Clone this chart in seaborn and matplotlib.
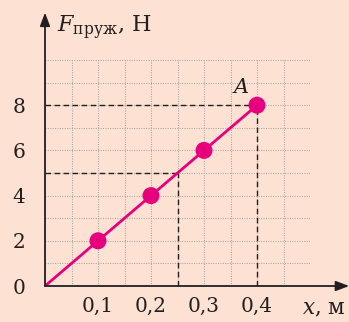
import numpy as np
import pandas as pd
import matplotlib
matplotlib.use("Agg")
import matplotlib.pyplot as plt
import seaborn as sns

# data
x_vals = [0.0, 0.1, 0.2, 0.3, 0.4]
f_vals = [0, 2, 4, 6, 8]
point_x = [0.1, 0.2, 0.3, 0.4]
point_f = [2, 4, 6, 8]
x_ticks = [0.1, 0.2, 0.3, 0.4]
x_labels = ["0,1", "0,2", "0,3", "0,4"]
y_ticks = [0, 2, 4, 6, 8]
y_labels = ["0", "2", "4", "6", "8"]
point_a = (0.4, 8)
read_x, read_f = 0.25, 5

bg = "#fde2d3"
ink = "#231f20"
magenta = "#e6007e"

sns.set_style("white")
plt.rcParams["font.family"] = ["DejaVu Serif"]
plt.rcParams["mathtext.fontset"] = "dejavuserif"

fig = plt.figure(figsize=(3.49, 3.22), dpi=100, facecolor=bg)
ax = fig.add_axes([45 / 349, 36 / 322, 265 / 349, 226 / 322], facecolor=bg)

line_df = pd.DataFrame({"x": x_vals, "F": f_vals})
pts_df = pd.DataFrame({"x": point_x, "F": point_f})

# dotted grid every 0.05 m and 1 N
ax.set_xlim(0, 0.5)
ax.set_ylim(0, 10)
ax.set_xticks(np.arange(0, 0.501, 0.05), minor=True)
ax.set_yticks(np.arange(0, 10.01, 1), minor=True)
ax.xaxis.remove_overlapping_locs = False
ax.yaxis.remove_overlapping_locs = False
ax.grid(which="minor", color="#a9a5a3", linestyle=(0, (1, 1.3)), linewidth=0.75)
ax.grid(which="major", visible=False)
ax.tick_params(which="minor", length=0)

# dashed guide lines
dash = (0, (4, 2.5))
ax.hlines(point_a[1], 0, point_a[0], colors=ink, linestyles=dash, linewidth=1, zorder=3)
ax.vlines(point_a[0], 0, point_a[1], colors=ink, linestyles=dash, linewidth=1, zorder=3)
ax.hlines(read_f, 0, read_x, colors=ink, linestyles=dash, linewidth=1, zorder=3)
ax.vlines(read_x, 0, read_f, colors=ink, linestyles=dash, linewidth=1, zorder=3)

sns.lineplot(data=line_df, x="x", y="F", color=magenta, linewidth=2, ax=ax, zorder=4)
sns.scatterplot(data=pts_df, x="x", y="F", color=magenta, s=150, edgecolor="none", ax=ax, zorder=5, clip_on=False)

for s in ax.spines.values():
    s.set_visible(False)

# axes with arrows
arrow = dict(arrowstyle="-|>,head_length=0.8,head_width=0.3", color=ink, lw=1.3, shrinkA=0, shrinkB=0)
ax.annotate("", xy=(0.574, 0), xytext=(0, 0), arrowprops=arrow, annotation_clip=False, zorder=6)
ax.annotate("", xy=(0, 12.1), xytext=(0, 0), arrowprops=arrow, annotation_clip=False, zorder=6)

ax.set_xticks(x_ticks)
ax.set_xticklabels(x_labels)
ax.set_yticks(y_ticks)
ax.set_yticklabels(y_labels)
ax.tick_params(which="major", direction="out", length=5, width=1.2, color=ink,
               labelsize=14.5, labelcolor=ink, pad=3)
ax.tick_params(axis="y", pad=9)
ax.yaxis.get_major_ticks()[0].tick1line.set_visible(False)
ax.set_xlabel("")
ax.set_ylabel("")

ax.text(0.022, 11.4, r"$F_{\mathrm{пруж}}$, Н", fontsize=16, color=ink, va="center", ha="left", clip_on=False)
ax.text(0.567, -1.0, r"$x$, м", fontsize=15.5, color=ink, va="center", ha="right", clip_on=False)
ax.text(point_a[0] - 0.03, point_a[1] + 0.8, r"$A$", fontsize=15, color=ink, va="center", ha="center")

fig.savefig("out.png", dpi=100, facecolor=bg)
